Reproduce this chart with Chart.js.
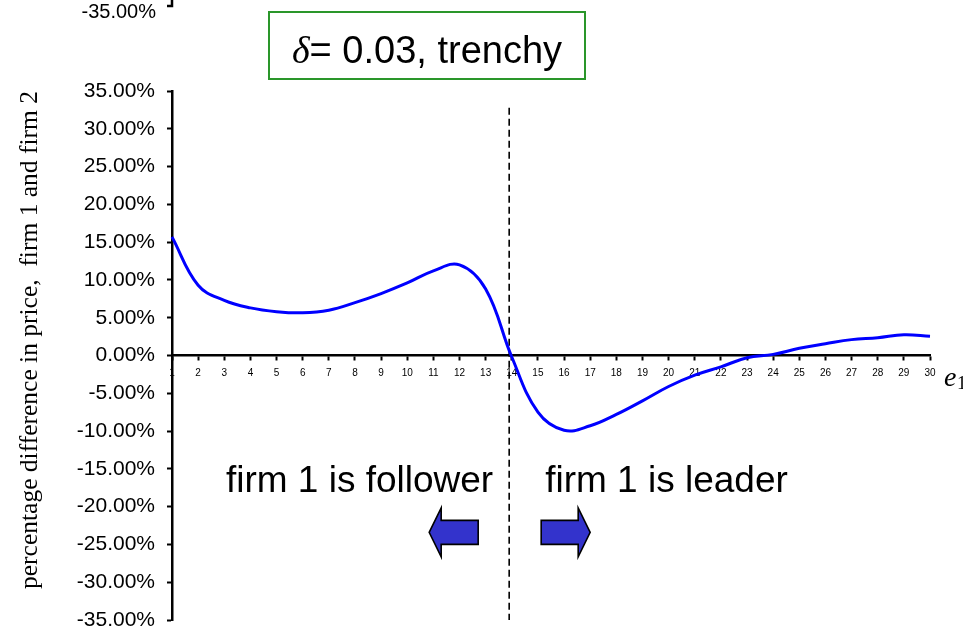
<!DOCTYPE html>
<html>
<head>
<meta charset="utf-8">
<script src="https://cdn.jsdelivr.net/npm/chart.js@4/dist/chart.umd.min.js"></script>
<style>
  html, body { margin: 0; padding: 0; background: #fff; }
  #wrap { width: 963px; height: 634px; }
</style>
</head>
<body>
<div id="wrap"><canvas id="priceChart" width="963" height="634"></canvas></div>
<script>
// e1 grid, 1..30
const e1Labels = ['1','2','3','4','5','6','7','8','9','10','11','12','13','14','15',
                  '16','17','18','19','20','21','22','23','24','25','26','27','28','29','30'];

// percentage difference in price between firm 1 and firm 2 (%)
const priceDiff = [15.7, 9.3, 7.3, 6.3, 5.8, 5.65, 6.0, 7.0, 8.2, 9.6,
                   11.2, 12.0, 8.8, -0.2, -7.5, -9.9, -9.3, -7.8, -6.0, -4.1,
                   -2.6, -1.5, -0.3, 0.15, 0.95, 1.55, 2.1, 2.35, 2.75, 2.55];

// y range and step
const yMin = -35;
const yMax = 35;
const yStep = 5;

// where firm 1 switches from follower to leader
const switchAt = 13.9;

const sans = "Arial, 'Liberation Sans', sans-serif";
const serif = "'Times New Roman', 'Liberation Serif', serif";

const annotations = {
    id: 'annotations',
    beforeDatasetsDraw(chart) {
        const {ctx, chartArea, scales: {x, y}} = chart;
        const px = x.getPixelForValue(switchAt - 1);
        ctx.save();
        ctx.strokeStyle = '#000';
        ctx.lineWidth = 1.6;
        ctx.setLineDash([7, 4]);
        ctx.beginPath();
        ctx.moveTo(px, y.getPixelForValue(32.8));
        ctx.lineTo(px, chartArea.bottom);
        ctx.stroke();
        ctx.restore();
    },
    afterDraw(chart) {
        const {ctx, chartArea, scales: {x, y}} = chart;
        const px = x.getPixelForValue(switchAt - 1);
        ctx.save();

        // bottom of the panel above
        ctx.fillStyle = '#000';
        ctx.font = '20px ' + sans;
        ctx.textAlign = 'right';
        ctx.textBaseline = 'alphabetic';
        ctx.fillText('-35.00%', 156, 18);
        ctx.lineWidth = 2.5;
        ctx.beginPath();
        ctx.moveTo(chartArea.left, 0);
        ctx.lineTo(chartArea.left, 6);
        ctx.lineTo(chartArea.left - 5, 6);
        ctx.stroke();

        // title box
        ctx.strokeStyle = '#2a962a';
        ctx.lineWidth = 2;
        ctx.strokeRect(269, 12, 316, 67);
        ctx.textAlign = 'left';
        ctx.font = 'italic 38px ' + serif;
        const delta = '\u03B4';
        const rest = '= 0.03, trenchy';
        const dW = ctx.measureText(delta).width;
        ctx.font = '38px ' + sans;
        const rW = ctx.measureText(rest).width;
        const tx = 427 - (dW + rW) / 2;
        ctx.font = 'italic 38px ' + serif;
        ctx.fillText(delta, tx, 63);
        ctx.font = '38px ' + sans;
        ctx.fillText(rest, tx + dW, 63);

        // regime labels
        const ty = y.getPixelForValue(-18);
        ctx.font = '37px ' + sans;
        ctx.textAlign = 'right';
        ctx.fillText('firm 1 is follower', px - 16, ty);
        ctx.textAlign = 'left';
        ctx.fillText('firm 1 is leader', px + 36, ty);

        // arrows
        const ay = y.getPixelForValue(-23.4);
        const arrow = (tipX, dir) => {
            const len = 49, head = 12, half = 24.5, shaft = 12;
            const baseX = tipX + dir * head;
            const endX = tipX + dir * len;
            ctx.beginPath();
            ctx.moveTo(tipX, ay);
            ctx.lineTo(baseX, ay - half);
            ctx.lineTo(baseX, ay - shaft);
            ctx.lineTo(endX, ay - shaft);
            ctx.lineTo(endX, ay + shaft);
            ctx.lineTo(baseX, ay + shaft);
            ctx.lineTo(baseX, ay + half);
            ctx.closePath();
            ctx.fillStyle = '#3333cc';
            ctx.fill();
            ctx.strokeStyle = '#000';
            ctx.lineWidth = 1.6;
            ctx.stroke();
        };
        arrow(px - 80, 1);
        arrow(px + 81, -1);

        // axis name e1
        const zy = y.getPixelForValue(0);
        ctx.fillStyle = '#000';
        ctx.textAlign = 'left';
        ctx.font = 'italic 28px ' + serif;
        ctx.fillText('e', 944, zy + 30);
        ctx.font = '19px ' + serif;
        ctx.fillText('1', 957, zy + 33);
        ctx.restore();
    }
};

new Chart(document.getElementById('priceChart'), {
    type: 'line',
    data: {
        labels: e1Labels,
        datasets: [{
            data: priceDiff,
            borderColor: '#0000ff',
            borderWidth: 3,
            pointRadius: 0,
            tension: 0.4,
            fill: false
        }]
    },
    options: {
        responsive: false,
        animation: false,
        layout: { padding: { left: 0, top: 91, right: 33, bottom: 14 } },
        plugins: {
            legend: { display: false },
            tooltip: { enabled: false }
        },
        scales: {
            x: {
                type: 'category',
                position: { y: 0 },
                offset: false,
                afterFit: scale => { scale.height = 14; },
                grid: {
                    drawOnChartArea: false,
                    drawTicks: true,
                    tickLength: 4,
                    tickWidth: 2,
                    tickColor: '#000'
                },
                border: { color: '#000', width: 2.5 },
                ticks: {
                    color: '#000',
                    font: { family: sans, size: 10 },
                    padding: 8,
                    maxRotation: 0,
                    autoSkip: false
                }
            },
            y: {
                min: yMin,
                max: yMax,
                afterFit: scale => {
                    scale.width = 172;
                    scale.paddingTop = 0;
                    scale.paddingBottom = 0;
                },
                grid: {
                    drawOnChartArea: false,
                    drawTicks: true,
                    tickLength: 5,
                    tickWidth: 2,
                    tickColor: '#000'
                },
                border: { color: '#000', width: 2.5 },
                ticks: {
                    stepSize: yStep,
                    color: '#000',
                    font: { family: sans, size: 21 },
                    padding: 12,
                    callback: v => v.toFixed(2) + '%'
                },
                title: {
                    display: true,
                    text: 'percentage difference in price,  firm 1 and firm 2',
                    align: 'end',
                    color: '#000',
                    font: { family: serif, size: 25.5 },
                    padding: { top: 15, bottom: 0 }
                }
            }
        }
    },
    plugins: [annotations]
});
</script>
</body>
</html>
